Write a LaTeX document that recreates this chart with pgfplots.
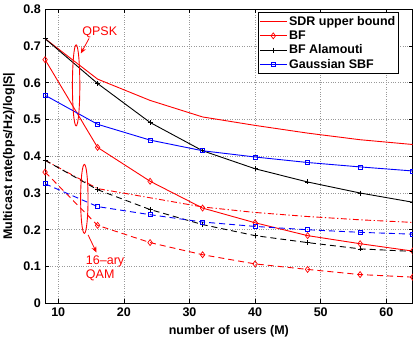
\documentclass[border=0pt]{standalone}
\usepackage{fontspec}
\setmainfont{Liberation Sans}
\usepackage{pgfplots}
\pgfplotsset{compat=1.18}
\usepgfplotslibrary{}
\usetikzlibrary{arrows.meta}
\definecolor{mred}{RGB}{255,0,0}
\definecolor{mblue}{RGB}{0,0,255}
\begin{document}
\begin{tikzpicture}
\fontsize{12.5}{14}\selectfont
\begin{axis}[
  name=ax,
  scale only axis,
  width=367.6pt, height=294pt,
  xmin=8, xmax=64, ymin=0, ymax=0.8,
  xtick={10,20,30,40,50,60},
  ytick={0,0.1,0.2,0.3,0.4,0.5,0.6,0.7,0.8},
  yticklabel style={/pgf/number format/fixed,/pgf/number format/precision=1},
  /pgf/number format/assume math mode=true,
  ticklabel style={font=\fontsize{12.5}{14}\selectfont\bfseries},
  label style={font=\fontsize{12.5}{14}\selectfont\bfseries},
  tick align=inside,
  major tick length=4pt,
  xtick pos=both, ytick pos=both,
  grid=major,
  major grid style={dotted, gray!80, line width=0.6pt},
  axis line style={line width=0.8pt},
  tick style={line width=0.6pt, black},
  xlabel={number of users (M)},
  ylabel={Multicast rate(bps/Hz)/log|S|},
  clip=true,
  legend cell align=left,
  legend style={at={(1,1)}, anchor=north east, xshift=-13.4pt, yshift=-3pt,
    font=\fontsize{12.5}{14}\selectfont\bfseries, draw=black, line width=0.8pt,
    inner sep=1.5pt, row sep=-0.5pt},
  legend image code/.code={\draw[mark repeat=2,mark phase=2,#1] plot coordinates {(0cm,0cm) (0.47cm,0cm) (0.94cm,0cm)};},
  every axis plot/.append style={line width=0.9pt},
]
% QPSK
\addplot[mred] coordinates {(8,0.720) (16,0.610) (24,0.552) (32,0.507) (40,0.484) (48,0.463) (56,0.445) (64,0.432)};
\addlegendentry{SDR upper bound}
\addplot[mred, mark=diamond, mark size=3pt, mark options={solid, line width=0.7pt}] coordinates {(8,0.663) (16,0.424) (24,0.332) (32,0.259) (40,0.219) (48,0.184) (56,0.162) (64,0.142)};
\addlegendentry{BF}
\addplot[black, mark=+, mark size=2.5pt, mark options={solid, line width=0.7pt}] coordinates {(8,0.720) (16,0.598) (24,0.492) (32,0.415) (40,0.366) (48,0.330) (56,0.300) (64,0.275)};
\addlegendentry{BF Alamouti}
\addplot[mblue, mark=square, mark size=2pt, mark options={solid, line width=0.7pt}] coordinates {(8,0.566) (16,0.487) (24,0.444) (32,0.415) (40,0.398) (48,0.383) (56,0.371) (64,0.360)};
\addlegendentry{Gaussian SBF}
% 16-QAM
\addplot[mred, dash pattern=on 6pt off 2.5pt on 1.2pt off 2.5pt, forget plot] coordinates {(8,0.389) (16,0.312) (24,0.287) (32,0.262) (40,0.247) (48,0.236) (56,0.227) (64,0.220)};
\addplot[mred, dash pattern=on 6pt off 4pt, mark=diamond, mark size=3pt, mark options={solid, line width=0.7pt}, forget plot] coordinates {(8,0.357) (16,0.212) (24,0.165) (32,0.132) (40,0.107) (48,0.092) (56,0.078) (64,0.071)};
\addplot[black, dash pattern=on 6pt off 4pt, mark=+, mark size=2.5pt, mark options={solid, line width=0.7pt}, forget plot] coordinates {(8,0.389) (16,0.309) (24,0.255) (32,0.214) (40,0.184) (48,0.165) (56,0.148) (64,0.141)};
\addplot[mblue, dash pattern=on 6pt off 4pt, mark=square, mark size=2pt, mark options={solid, line width=0.7pt}, forget plot] coordinates {(8,0.325) (16,0.263) (24,0.241) (32,0.221) (40,0.209) (48,0.200) (56,0.193) (64,0.188)};
% annotations
\draw[mred, line width=0.9pt] (axis cs:12.73,0.593) ellipse [x radius=3.7pt, y radius=40.5pt];
\draw[mred, line width=0.9pt] (axis cs:13.98,0.284) ellipse [x radius=3.7pt, y radius=34.5pt];
\draw[mred, line width=0.8pt, -{Stealth[length=6pt,width=5pt]}] (axis cs:14.71,0.721) -- (axis cs:13.45,0.680);
\draw[mred, line width=0.8pt, -{Stealth[length=6pt,width=5pt]}] (axis cs:14.55,0.186) -- (axis cs:15.83,0.138);
\node[mred, font=\fontsize{12.5}{14}\selectfont] at (axis cs:16.33,0.736) {QPSK};
\node[mred, font=\fontsize{12.5}{14}\selectfont, align=left, anchor=north west, inner sep=0pt] at (axis cs:14.2,0.131) {16–ary\\QAM};
\end{axis}
\pgfresetboundingbox
\path[use as bounding box] ([xshift=-45.1pt,yshift=-35.7pt]ax.south west) rectangle ([xshift=0.4pt,yshift=9.3pt]ax.north east);
\end{tikzpicture}
\end{document}
